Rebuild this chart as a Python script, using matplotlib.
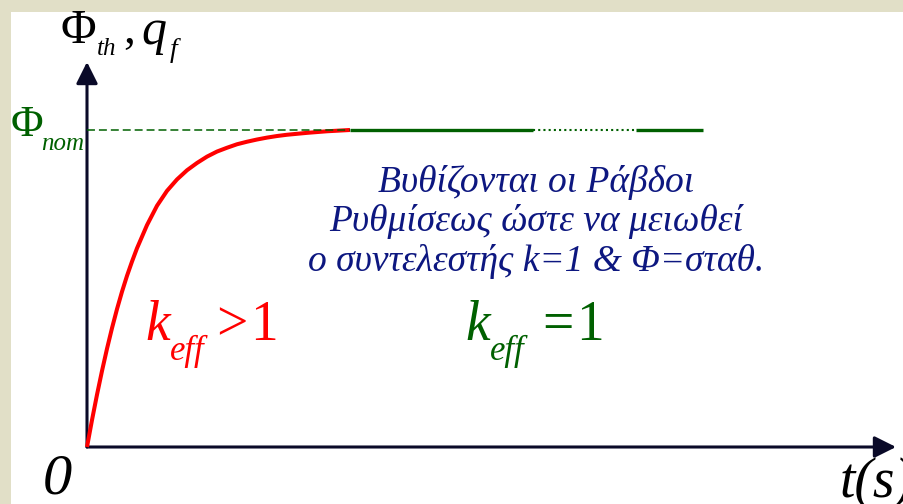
import matplotlib
matplotlib.use("Agg")
import matplotlib.pyplot as plt

plt.rcParams['font.family'] = ['Liberation Serif', 'DejaVu Serif']

W, H = 904, 504

# flux build-up while k_eff > 1 (time in arbitrary units, flux relative to nominal)
t_rise = [0, 0.05, 0.10, 0.15, 0.20, 0.25, 0.30, 0.35, 0.40, 0.45, 0.50, 0.60,
          0.70, 0.80, 0.90, 1.00, 1.10, 1.20, 1.30, 1.40, 1.50, 1.60, 1.70, 1.80,
          1.90, 2.00, 2.20, 2.40, 2.63]
phi_rise = [0, 0.085, 0.165, 0.24, 0.31, 0.375, 0.435, 0.49, 0.54, 0.585, 0.627, 0.70,
            0.761, 0.808, 0.844, 0.873, 0.896, 0.916, 0.932, 0.944, 0.955, 0.963, 0.970, 0.976,
            0.981, 0.985, 0.991, 0.996, 1.0]

# steady state at nominal flux (k_eff = 1)
phi_nom = 1.0
t_steady_1 = [2.63, 4.46]
t_steady_gap = [4.46, 5.49]
t_steady_2 = [5.49, 6.16]
t_ref = [0, 2.63]

# axis ends
t_axis_end = 8.09
phi_axis_end = 1.2145

red = '#ff0000'
green = '#006000'
navy = '#0d1780'
axis_col = '#0a0a28'


def px(x, y):
    return x / W, 1 - y / H


fig = plt.figure(figsize=(W / 100, H / 100), dpi=100, facecolor='#e1dfc7')
ax = fig.add_axes([11 / W, 0, (W - 11) / W, (H - 12) / H], facecolor='white')
for s in ax.spines.values():
    s.set_visible(False)
ax.set_xticks([])
ax.set_yticks([])
ax.set_xlim((11 - 87) / 100, (W - 87) / 100)
ax.set_ylim((447 - H) / 317, (447 - 12) / 317)

# axes with arrow heads
arrow = dict(arrowstyle='-|>,head_length=0.9,head_width=0.45', mutation_scale=14.6,
             color=axis_col, lw=2.2, shrinkA=0, shrinkB=0)
ax.annotate('', xy=(t_axis_end, 0), xytext=(0, 0), arrowprops=arrow)
ax.annotate('', xy=(0, phi_axis_end), xytext=(0, 0), arrowprops=arrow)

ax.plot(t_rise, phi_rise, color=red, lw=2.9, solid_capstyle='butt',
        solid_joinstyle='round', zorder=3)
ax.plot(t_ref, [phi_nom] * 2, color=green, lw=1.1, dashes=(5.2, 2.6), zorder=4)
ax.plot(t_steady_1, [phi_nom] * 2, color=green, lw=2.4, solid_capstyle='butt', zorder=3)
ax.plot(t_steady_gap, [phi_nom] * 2, color=green, lw=1.5, dashes=(1, 1.5), zorder=3)
ax.plot(t_steady_2, [phi_nom] * 2, color=green, lw=2.4, solid_capstyle='butt', zorder=3)

# axis labels
fig.text(*px(60, 43), 'Φ', fontsize=35, color='black', va='baseline')
fig.text(*px(97, 55), 'th', fontsize=18, style='italic', color='black', va='baseline')
fig.text(*px(123, 43), ',', fontsize=34, color='black', va='baseline')
fig.text(*px(141, 44), 'q', fontsize=36, style='italic', color='black', va='baseline')
fig.text(*px(170, 57), 'f', fontsize=20, style='italic', color='black', va='baseline')

fig.text(*px(11, 136), 'Φ', fontsize=32, color=green, va='baseline')
fig.text(*px(41, 150), 'nom', fontsize=18, style='italic', color=green, va='baseline')

fig.text(*px(43, 493), '0', fontsize=42, style='italic', color='black', va='baseline')
fig.text(*px(840, 497), 't(s)', fontsize=40, style='italic', color='black', va='baseline')

# k_eff > 1 (red)
fig.text(*px(145, 340), 'k', fontsize=40, style='italic', color=red, va='baseline')
fig.text(*px(170, 360), 'eff', fontsize=25, style='italic', color=red, va='baseline')
fig.text(*px(216, 340), '>', fontsize=40, color=red, va='baseline')
fig.text(*px(250, 340), '1', fontsize=40, color=red, va='baseline')

# k_eff = 1 (green)
fig.text(*px(465, 340), 'k', fontsize=40, style='italic', color=green, va='baseline')
fig.text(*px(490, 360), 'eff', fontsize=25, style='italic', color=green, va='baseline')
fig.text(*px(542, 340), '=', fontsize=40, color=green, va='baseline')
fig.text(*px(576, 340), '1', fontsize=40, color=green, va='baseline')

# annotation
lines = ['Βυθίζονται οι Ράβδοι',
         'Ρυθμίσεως ώστε να μειωθεί',
         'ο συντελεστής k=1 & Φ=σταθ.']
for i, s in enumerate(lines):
    fig.text(*px(536, 192 + 39.5 * i), s, fontsize=27, style='italic', color=navy,
             ha='center', va='baseline')

fig.savefig('out.png', dpi=100, facecolor=fig.get_facecolor())
